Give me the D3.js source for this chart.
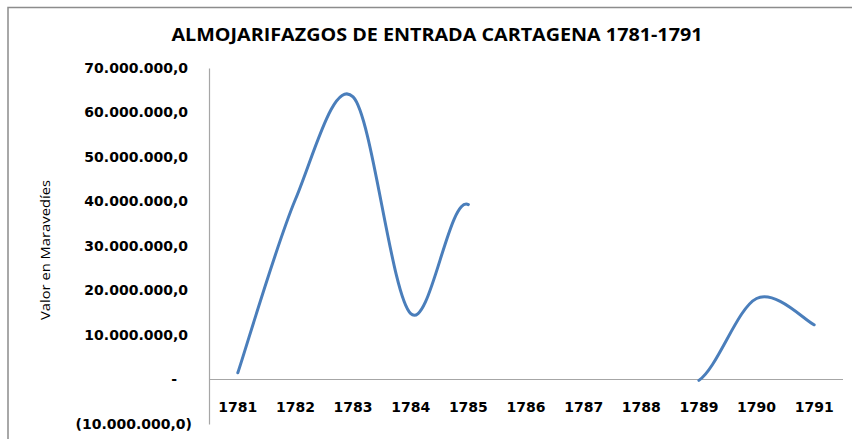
<!DOCTYPE html>
<html>
<head>
<meta charset="utf-8">
<script src="https://cdn.jsdelivr.net/npm/d3@7"></script>
<style>
  body { margin: 0; background: #fff; }
  svg { display: block; }
  .tick text { font-family: "DejaVu Sans", Verdana, sans-serif; font-weight: bold; font-size: 14px; fill: #000; }
</style>
</head>
<body>
<div id="chart"></div>
<script>
// years and values (maravedíes), null = no data
var years = ["1781","1782","1783","1784","1785","1786","1787","1788","1789","1790","1791"];
var values = [1500000, 40500000, 63500000, 14800000, 39300000, null, null, null, -200000, 18200000, 12300000];
var yTicks = [-10000000, 0, 10000000, 20000000, 30000000, 40000000, 50000000, 60000000, 70000000];

var W = 852, H = 439;
var margin = {top: 68, right: 9, bottom: 15, left: 209};

var svg = d3.select("#chart").append("svg")
    .attr("width", W)
    .attr("height", H);

// chart frame
svg.append("rect")
    .attr("x", 8).attr("y", 7.5)
    .attr("width", W + 20).attr("height", H + 20)
    .attr("fill", "none")
    .attr("stroke", "#8c8c8c")
    .attr("stroke-width", 1.5);

svg.append("text")
    .attr("x", 437).attr("y", 41)
    .attr("text-anchor", "middle")
    .attr("font-family", "'Open Sans', sans-serif")
    .attr("font-weight", 700)
    .attr("font-size", 17)
    .attr("textLength", 531)
    .attr("lengthAdjust", "spacingAndGlyphs")
    .text("ALMOJARIFAZGOS DE ENTRADA CARTAGENA 1781-1791");

svg.append("text")
    .attr("transform", "translate(50,250) rotate(-90)")
    .attr("text-anchor", "middle")
    .attr("font-family", "'Open Sans', sans-serif")
    .attr("font-size", 13.5)
    .attr("textLength", 140)
    .attr("lengthAdjust", "spacingAndGlyphs")
    .text("Valor en Maravedíes");

var g = svg.append("g")
    .attr("transform", "translate(" + margin.left + "," + margin.top + ")");

var x = d3.scaleBand().domain(years).range([0, 634]);
var y = d3.scaleLinear().domain([-10000000, 70000000]).range([356, 0]);

var fmt = function(v) {
  if (v === 0) return "-";
  var s = d3.format(",.1f")(Math.abs(v)).replace(/,/g, "#").replace(".", ",").replace(/#/g, ".");
  return v < 0 ? "(" + s + ")" : s;
};

var yAxis = g.append("g")
    .call(d3.axisLeft(y).tickValues(yTicks).tickFormat(fmt).tickSize(0).tickPadding(21));
yAxis.select(".domain").attr("stroke", "#a6a6a6").attr("stroke-width", 1.2);
yAxis.selectAll(".tick text")
    .attr("dx", function(d) { return d === 0 ? -11 : (d < 0 ? 4 : 0); });

// zero line
g.append("line")
    .attr("x1", 0).attr("x2", x.range()[1])
    .attr("y1", y(0)).attr("y2", y(0))
    .attr("stroke", "#a6a6a6").attr("stroke-width", 1.2);

var xAxis = g.append("g")
    .attr("transform", "translate(0," + y(0) + ")")
    .call(d3.axisBottom(x).tickSize(0).tickPadding(23));
xAxis.select(".domain").remove();

// smoothed line like Excel: bezier segments, blank neighbours count as 0 for the tangents
var px = function(i) { return x(years[i]) + x.bandwidth() / 2; };
var pt = function(i) {
  var j = Math.max(0, Math.min(values.length - 1, i));
  var v = values[j] == null ? 0 : values[j];
  return [px(j), y(v)];
};
var p = d3.path();
var open = false;
for (var i = 0; i < values.length - 1; i++) {
  if (values[i] == null || values[i + 1] == null) { open = false; continue; }
  var a = pt(i - 1), b = pt(i), c = pt(i + 1), d = pt(i + 2);
  if (!open) { p.moveTo(b[0], b[1]); open = true; }
  p.bezierCurveTo(b[0] + (c[0] - a[0]) / 6, b[1] + (c[1] - a[1]) / 6,
                  c[0] - (d[0] - b[0]) / 6, c[1] - (d[1] - b[1]) / 6,
                  c[0], c[1]);
}

g.append("path")
    .attr("fill", "none")
    .attr("stroke", "#4a7ebb")
    .attr("stroke-width", 3)
    .attr("stroke-linecap", "round")
    .attr("d", p.toString());
</script>
</body>
</html>
